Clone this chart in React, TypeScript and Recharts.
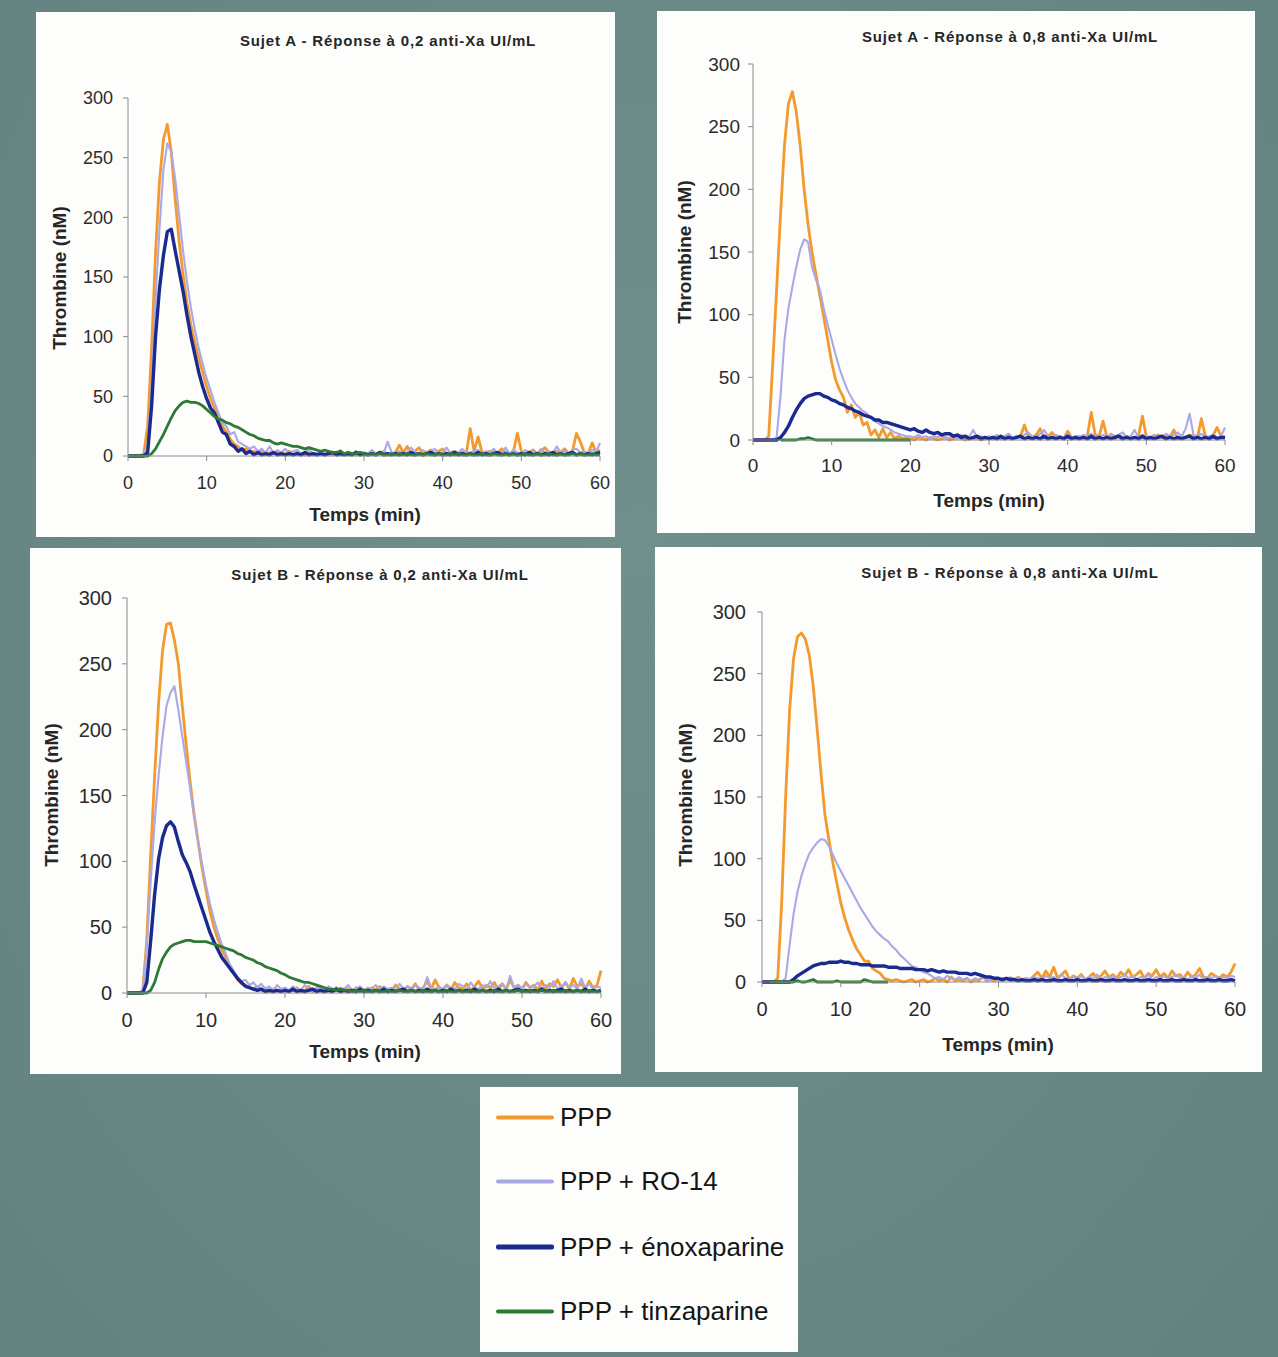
import { LineChart, Line, XAxis, YAxis } from "recharts";

// time axis (min), one reading every 30 s
const minutes = [
  0, 0.5, 1, 1.5, 2, 2.5, 3, 3.5, 4, 4.5,
  5, 5.5, 6, 6.5, 7, 7.5, 8, 8.5, 9, 9.5,
  10, 10.5, 11, 11.5, 12, 12.5, 13, 13.5, 14, 14.5,
  15, 15.5, 16, 16.5, 17, 17.5, 18, 18.5, 19, 19.5,
  20, 20.5, 21, 21.5, 22, 22.5, 23, 23.5, 24, 24.5,
  25, 25.5, 26, 26.5, 27, 27.5, 28, 28.5, 29, 29.5,
  30, 30.5, 31, 31.5, 32, 32.5, 33, 33.5, 34, 34.5,
  35, 35.5, 36, 36.5, 37, 37.5, 38, 38.5, 39, 39.5,
  40, 40.5, 41, 41.5, 42, 42.5, 43, 43.5, 44, 44.5,
  45, 45.5, 46, 46.5, 47, 47.5, 48, 48.5, 49, 49.5,
  50, 50.5, 51, 51.5, 52, 52.5, 53, 53.5, 54, 54.5,
  55, 55.5, 56, 56.5, 57, 57.5, 58, 58.5, 59, 59.5,
  60,
];

const xTicks = [0, 10, 20, 30, 40, 50, 60];
const yTicks = [0, 50, 100, 150, 200, 250, 300];

// Sujet A - 0,2 anti-Xa
const a02Ppp = [
  0, 0, 0, 0, 2, 25, 90, 170, 230, 265,
  278, 255, 215, 180, 152, 128, 110, 95, 82, 70,
  58, 48, 40, 33, 25, 20, 14, 10, 8, 5,
  6, 3, 4, 2, 5, 1, 3, 2, 4, 1,
  2, 4, 1, 3, 2, 1, 3, 1, 2, 4,
  1, 2, 1, 3, 1, 2, 1, 2, 1, 3,
  1, 2, 3, 1, 2, 4, 1, 2, 3, 9,
  3, 8, 2, 4, 7, 2, 3, 5, 2, 4,
  6, 2, 3, 4, 2, 3, 2, 23, 4, 16,
  3, 2, 4, 3, 2, 6, 3, 2, 4, 19,
  4, 2, 3, 5, 2, 4, 7, 3, 2, 4,
  3, 6, 2, 4, 19, 12, 3, 2, 11, 3,
  5,
];
const a02Ro14 = [
  0, 0, 0, 0, 1, 10, 60, 130, 190, 240,
  262, 255, 232, 202, 172, 146, 124, 106, 90, 77,
  65, 55, 45, 36, 28, 25, 18, 20, 12, 10,
  8, 6, 8, 4, 6, 3, 8, 2, 5, 3,
  6, 2, 4, 5, 2, 3, 6, 2, 3, 2,
  4, 2, 3, 2, 5, 1, 3, 2, 4, 2,
  3, 2, 5, 2, 3, 2, 12, 3, 2, 4,
  2, 3, 7, 3, 2, 5, 3, 4, 6, 2,
  3, 7, 2, 4, 3, 6, 2, 3, 4, 5,
  2, 4, 3, 6, 2, 3, 7, 2, 5, 3,
  2, 5, 3, 4, 2, 6, 3, 4, 2, 8,
  3, 4, 2, 5, 6, 3, 4, 2, 5, 3,
  11,
];
const a02Enox = [
  0, 0, 0, 0, 0, 3, 42, 100, 140, 168,
  188, 190, 172, 155, 138, 118, 100, 85, 70, 58,
  48, 40, 36, 28, 20, 18, 10, 8, 4, 6,
  2, 4, 1, 3, 1, 2, 1, 3, 1, 2,
  1, 2, 1, 2, 1, 3, 1, 2, 1, 2,
  1, 2, 3, 1, 2, 1, 2, 1, 3, 1,
  2, 1, 2, 1, 3, 1, 2, 1, 2, 1,
  2, 1, 3, 1, 2, 1, 2, 3, 1, 2,
  1, 2, 1, 3, 1, 2, 1, 2, 1, 3,
  1, 2, 1, 2, 3, 1, 2, 1, 2, 1,
  2, 1, 3, 1, 2, 1, 2, 1, 3, 1,
  2, 1, 2, 3, 1, 2, 1, 2, 1, 2,
  3,
];
const a02Tinz = [
  0, 0, 0, 0, 0, 0, 2, 6, 12, 18,
  25, 32, 38, 42, 45, 46, 45, 45, 44, 42,
  39, 36, 33, 31, 30, 28, 27, 25, 24, 22,
  20, 18, 17, 15, 14, 13, 13, 11, 10, 11,
  10, 9, 8, 8, 7, 6, 7, 6, 5, 4,
  5, 4, 3, 3, 4, 2, 3, 2, 2, 3,
  2, 1, 2, 1, 2, 1, 1, 2, 1, 2,
  1, 2, 1, 1, 2, 1, 2, 1, 1, 2,
  1, 1, 2, 1, 2, 1, 1, 2, 1, 1,
  2, 1, 1, 2, 1, 1, 2, 1, 2, 1,
  1, 2, 1, 1, 2, 1, 1, 2, 1, 1,
  2, 1, 1, 2, 1, 2, 1, 1, 2, 1,
  1,
];

// Sujet A - 0,8 anti-Xa
const a08Ppp = [
  0, 0, 0, 0, 3, 60, 120, 180, 235, 268,
  278, 262, 235, 200, 172, 150, 132, 115, 98, 80,
  62, 48, 40, 34, 22, 28, 18, 22, 12, 14,
  4, 8, 2, 9, 2, 6, 1, 3, 1, 2,
  1, 0, 2, 1, 0, 2, 1, 0, 1, 2,
  0, 1, 3, 1, 0, 2, 1, 2, 0, 1,
  2, 1, 3, 1, 2, 4, 1, 2, 3, 12,
  3, 2, 4, 9, 2, 3, 6, 2, 3, 1,
  7, 2, 1, 3, 2, 3, 22, 4, 3, 15,
  2, 3, 1, 4, 2, 3, 1, 2, 3, 19,
  3, 1, 2, 4, 2, 3, 2, 8, 1, 3,
  2, 4, 3, 2, 17, 3, 2, 4, 10, 3,
  2,
];
const a08Ro14 = [
  0, 0, 0, 0, 0, 0, 2, 35, 80, 105,
  122, 138, 152, 160, 158, 138, 128, 120, 105, 92,
  80, 68, 57, 48, 40, 34, 29, 26, 23, 21,
  18, 15, 13, 11, 10, 8, 6, 5, 4, 3,
  3, 2, 4, 2, 3, 1, 3, 2, 4, 1,
  2, 3, 1, 4, 2, 3, 8, 2, 3, 1,
  3, 2, 4, 2, 3, 5, 2, 3, 2, 4,
  6, 3, 2, 5, 8, 3, 2, 4, 3, 2,
  5, 2, 3, 2, 4, 3, 5, 2, 3, 4,
  2, 5, 3, 4, 6, 2, 3, 8, 2, 4,
  3, 2, 4, 3, 2, 5, 3, 4, 6, 3,
  9, 21, 4, 3, 5, 2, 3, 4, 2, 3,
  10,
];
const a08Enox = [
  0, 0, 0, 0, 0, 0, 0, 2, 6, 11,
  18, 24, 29, 33, 35, 36, 37, 37, 35, 34,
  32, 31, 29, 28, 26, 25, 23, 22, 20, 19,
  18, 16, 16, 14, 14, 13, 12, 11, 10, 9,
  8, 9, 7, 6, 8, 6, 5, 6, 4, 5,
  5, 3, 4, 2, 3, 1, 2, 3, 1, 2,
  1, 2, 1, 3, 1, 2, 1, 2, 3, 1,
  2, 1, 2, 1, 3, 1, 2, 1, 2, 1,
  3, 1, 2, 1, 2, 1, 3, 1, 2, 1,
  2, 1, 2, 3, 1, 2, 1, 2, 1, 3,
  1, 2, 1, 2, 3, 1, 2, 1, 2, 1,
  2, 3, 1, 2, 1, 2, 1, 3, 1, 2,
  2,
];
const a08Tinz = [
  null, null, null, null, null, null, null, 0, 0, 0,
  0, 0, 1, 1, 2, 1, 0, 0, 0, 0,
  0, 0, 0, 0, 0, 0, 0, 0, 0, 0,
  0, 0, 0, 0, 0, 0, 0, 0, 0, 0,
  0, null, null, null, null, null, null, null, null, null,
  null, null, null, null, null, null, null, null, null, null,
  null, null, null, null, null, null, null, null, null, null,
  null, null, null, null, null, null, null, null, null, null,
  null, null, null, null, null, null, null, null, null, null,
  null, null, null, null, null, null, null, null, null, null,
  null, null, null, null, null, null, null, null, null, null,
  null, null, null, null, null, null, null, null, null, null,
  null,
];

// Sujet B - 0,2 anti-Xa
const b02Ppp = [
  0, 0, 0, 0, 2, 40, 105, 165, 220, 260,
  280, 281, 268, 250, 218, 188, 160, 135, 115, 95,
  78, 62, 50, 41, 33, 27, 20, 15, 10, 7,
  6, 4, 3, 5, 2, 4, 1, 3, 2, 1,
  3, 1, 2, 4, 1, 2, 5, 1, 3, 2,
  1, 3, 2, 4, 1, 2, 3, 1, 4, 2,
  3, 1, 4, 2, 5, 1, 3, 2, 6, 3,
  2, 5, 3, 7, 2, 4, 9, 3, 10, 4,
  3, 6, 2, 8, 4, 3, 7, 2, 5, 9,
  3, 6, 4, 8, 2, 7, 3, 10, 4, 6,
  3, 8, 4, 6, 2, 9, 3, 7, 5, 10,
  4, 8, 3, 11, 5, 7, 3, 9, 4, 6,
  17,
];
const b02Ro14 = [
  0, 0, 0, 0, 2, 35, 85, 130, 165, 195,
  218, 228, 233, 215, 195, 175, 155, 135, 115, 98,
  82, 68, 56, 46, 37, 30, 22, 17, 12, 9,
  10, 6, 8, 4, 7, 3, 5, 2, 6, 3,
  4, 2, 5, 3, 2, 6, 3, 2, 4, 3,
  2, 5, 3, 2, 4, 3, 6, 2, 3, 5,
  2, 4, 3, 6, 2, 5, 3, 4, 2, 7,
  3, 5, 2, 6, 4, 3, 12, 4, 3, 5,
  2, 6, 4, 3, 7, 5, 2, 8, 4, 3,
  6, 4, 9, 3, 5, 7, 3, 13, 4, 6,
  3, 7, 4, 5, 8, 3, 6, 4, 9, 3,
  5, 8, 4, 6, 3, 11, 4, 7, 3, 5,
  4,
];
const b02Enox = [
  0, 0, 0, 0, 0, 8, 40, 75, 102, 118,
  127, 130, 126, 115, 105, 99, 92, 82, 73, 64,
  55, 46, 39, 33, 27, 23, 19, 15, 11, 8,
  5, 4, 3, 2, 3, 1, 2, 1, 2, 1,
  2, 1, 3, 1, 2, 1, 2, 3, 1, 2,
  1, 2, 1, 3, 1, 2, 1, 2, 1, 3,
  1, 2, 1, 2, 1, 3, 1, 2, 1, 2,
  3, 1, 2, 1, 2, 1, 3, 1, 2, 1,
  2, 1, 3, 1, 2, 1, 2, 1, 3, 1,
  2, 1, 2, 1, 3, 1, 2, 1, 2, 3,
  1, 2, 1, 2, 1, 3, 1, 2, 1, 2,
  3, 1, 2, 1, 2, 1, 3, 1, 2, 1,
  2,
];
const b02Tinz = [
  0, 0, 0, 0, 0, 0, 2, 8, 18, 26,
  31, 35, 37, 38, 39, 40, 40, 39, 39, 39,
  39, 38, 37, 36, 35, 34, 33, 32, 30, 29,
  27, 26, 25, 23, 22, 20, 19, 18, 17, 15,
  14, 12, 11, 10, 9, 8, 8, 7, 6, 5,
  4, 3, 3, 2, 3, 2, 2, 1, 2, 1,
  2, 1, 1, 2, 1, 1, 2, 1, 1, 2,
  1, 1, 2, 1, 1, 2, 1, 1, 2, 1,
  1, 2, 1, 1, 2, 1, 1, 2, 1, 1,
  2, 1, 1, 2, 1, 1, 2, 1, 1, 2,
  1, 1, 2, 1, 1, 2, 1, 1, 2, 1,
  1, 2, 1, 1, 2, 1, 1, 2, 1, 1,
  1,
];

// Sujet B - 0,8 anti-Xa
const b08Ppp = [
  0, 0, 0, 0, 3, 65, 150, 220, 262, 280,
  283, 278, 265, 240, 205, 168, 135, 115, 96, 80,
  64, 52, 42, 34, 27, 22, 17, 17, 11, 9,
  7, 3, 2, 1, 2, 1, 0, 1, 2, 0,
  1, 2, 0, 1, 3, 1, 2, 0, 4, 1,
  2, 1, 3, 0, 2, 1, 4, 1, 2, 1,
  2, 1, 3, 1, 2, 4, 1, 3, 2, 5,
  8, 3, 9, 4, 12, 3, 6, 9, 2, 5,
  3, 6, 2, 4, 7, 3, 5, 9, 4, 6,
  3, 8, 5, 10, 4, 6, 9, 3, 7, 5,
  10, 4, 7, 3, 9, 5, 6, 3, 8, 4,
  6, 11, 4, 3, 7, 5, 3, 6, 4, 8,
  15,
];
const b08Ro14 = [
  0, 0, 0, 0, 0, 0, 3, 30, 55, 73,
  86, 96, 104, 109, 113, 116, 115, 110, 103, 96,
  90, 84, 78, 72, 66, 60, 55, 50, 45, 41,
  38, 35, 33, 29, 26, 22, 19, 16, 13, 12,
  10, 8, 7, 5, 3, 4, 2, 5, 3, 2,
  4, 2, 3, 1, 3, 2, 4, 1, 2, 3,
  1, 3, 2, 4, 2, 3, 1, 3, 2, 4,
  3, 2, 5, 3, 4, 2, 6, 3, 2, 4,
  3, 5, 2, 4, 3, 6, 2, 4, 3, 5,
  2, 4, 6, 3, 5, 2, 4, 3, 6, 2,
  4, 3, 5, 2, 4, 6, 3, 4, 2, 5,
  3, 6, 2, 4, 3, 5, 2, 4, 3, 5,
  4,
];
const b08Enox = [
  0, 0, 0, 0, 0, 0, 0, 0, 2, 5,
  7, 9, 11, 13, 14, 15, 15, 16, 16, 16,
  17, 16, 16, 15, 15, 14, 14, 14, 13, 13,
  13, 13, 12, 12, 12, 11, 11, 11, 11, 10,
  10, 10, 9, 10, 9, 8, 9, 8, 8, 8,
  7, 7, 7, 6, 7, 6, 5, 4, 4, 3,
  3, 2, 3, 2, 2, 1, 2, 1, 1, 2,
  1, 2, 1, 1, 2, 1, 1, 2, 1, 1,
  2, 1, 1, 2, 1, 1, 2, 1, 1, 2,
  1, 1, 2, 1, 1, 2, 1, 1, 2, 1,
  1, 2, 1, 1, 2, 1, 1, 2, 1, 1,
  2, 1, 1, 2, 1, 1, 2, 1, 1, 2,
  1,
];
const b08Tinz = [
  null, null, 0, 0, 0, 0, 0, 0, 0, 1,
  0, 0, 1, 2, 0, 0, 0, 0, 0, 1,
  0, 0, 0, 0, 0, 0, 2, 1, 0, 0,
  0, 0, 0, null, null, null, null, null, null, null,
  null, null, null, null, null, null, null, null, null, null,
  null, null, null, null, null, null, null, null, null, null,
  null, null, null, null, null, null, null, null, null, null,
  null, null, null, null, null, null, null, null, null, null,
  null, null, null, null, null, null, null, null, null, null,
  null, null, null, null, null, null, null, null, null, null,
  null, null, null, null, null, null, null, null, null, null,
  null, null, null, null, null, null, null, null, null, null,
  null,
];

const series = [
  { key: "ppp", label: "PPP", color: "#F29A2E", width: 2.8 },
  { key: "ro14", label: "PPP + RO-14", color: "#A9A9E6", width: 2.1 },
  { key: "enox", label: "PPP + énoxaparine", color: "#1B2A8E", width: 3.4 },
  { key: "tinz", label: "PPP + tinzaparine", color: "#2C7A35", width: 2.8 },
];

type Val = number | null;

function buildRows(ppp: Val[], ro14: Val[], enox: Val[], tinz: Val[]) {
  return minutes.map((t, i) => ({ t, ppp: ppp[i], ro14: ro14[i], enox: enox[i], tinz: tinz[i] }));
}

const FONT = "'Liberation Sans', Arial, sans-serif";
const Y_AXIS_W = 50;
const X_AXIS_H = 40;

// box = panel [left, top, right, bottom]; plot = plot area [left, top, right, bottom], page px
const panels = [
  {
    title: "Sujet A - Réponse à 0,2 anti-Xa UI/mL",
    box: [36, 12, 615, 537], plot: [128, 98, 600, 456],
    tickFont: 18, xGap: 20, yGap: 15,
    titleAt: [388, 40], xLabelAt: [365, 515], yLabelAt: [60, 278],
    rows: buildRows(a02Ppp, a02Ro14, a02Enox, a02Tinz),
  },
  {
    title: "Sujet A - Réponse à 0,8 anti-Xa UI/mL",
    box: [657, 11, 1255, 533], plot: [753, 64, 1225, 440],
    tickFont: 19, xGap: 19, yGap: 13,
    titleAt: [1010, 36], xLabelAt: [989, 501], yLabelAt: [685, 252],
    rows: buildRows(a08Ppp, a08Ro14, a08Enox, a08Tinz),
  },
  {
    title: "Sujet B - Réponse à 0,2 anti-Xa UI/mL",
    box: [30, 548, 621, 1074], plot: [127, 598, 601, 993],
    tickFont: 20, xGap: 20, yGap: 15,
    titleAt: [380, 574], xLabelAt: [365, 1052], yLabelAt: [52, 795],
    rows: buildRows(b02Ppp, b02Ro14, b02Enox, b02Tinz),
  },
  {
    title: "Sujet B - Réponse à 0,8 anti-Xa UI/mL",
    box: [655, 547, 1262, 1072], plot: [762, 612, 1235, 982],
    tickFont: 20, xGap: 20, yGap: 16,
    titleAt: [1010, 572], xLabelAt: [998, 1045], yLabelAt: [686, 795],
    rows: buildRows(b08Ppp, b08Ro14, b08Enox, b08Tinz),
  },
];

function Panel({ p }: { p: (typeof panels)[number] }) {
  const [bl, bt, br, bb] = p.box;
  const [pl, pt, pr, pb] = p.plot;
  const w = br - bl;
  const h = bb - bt;
  const margin = {
    left: pl - bl - Y_AXIS_W,
    top: pt - bt,
    right: br - pr,
    bottom: bb - pb - X_AXIS_H,
  };
  const tick = { fontSize: p.tickFont, fill: "#2b2b2b", fontFamily: FONT };
  const axisLine = { stroke: "#8a8a8a", strokeWidth: 1 };

  return (
    <>
      <div style={{ position: "absolute", left: bl, top: bt, width: w, height: h, background: "#fdfdfc" }}>
        <LineChart width={w} height={h} data={p.rows} margin={margin}>
          <XAxis
            dataKey="t"
            type="number"
            domain={[0, 60]}
            ticks={xTicks}
            height={X_AXIS_H}
            tick={tick}
            tickSize={5}
            tickMargin={p.xGap - 5}
            axisLine={axisLine}
            tickLine={axisLine}
          />
          <YAxis
            type="number"
            domain={[0, 300]}
            ticks={yTicks}
            width={Y_AXIS_W}
            tick={tick}
            tickSize={5}
            tickMargin={p.yGap - 5}
            axisLine={axisLine}
            tickLine={axisLine}
          />
          {series.map((s) => (
            <Line
              key={s.key}
              dataKey={s.key}
              type="linear"
              stroke={s.color}
              strokeWidth={s.width}
              strokeLinejoin="round"
              dot={false}
              activeDot={false}
              isAnimationActive={false}
            />
          ))}
        </LineChart>
      </div>
      <div
        style={{
          position: "absolute", left: p.titleAt[0], top: p.titleAt[1],
          transform: "translate(-50%, -50%)", whiteSpace: "nowrap",
          fontFamily: FONT, fontWeight: 700, fontSize: 15, letterSpacing: 0.85, color: "#262626",
        }}
      >
        {p.title}
      </div>
      <div
        style={{
          position: "absolute", left: p.xLabelAt[0], top: p.xLabelAt[1],
          transform: "translate(-50%, -50%)", whiteSpace: "nowrap",
          fontFamily: FONT, fontWeight: 700, fontSize: 19, color: "#262626",
        }}
      >
        Temps (min)
      </div>
      <div
        style={{
          position: "absolute", left: p.yLabelAt[0], top: p.yLabelAt[1],
          transform: "translate(-50%, -50%) rotate(-90deg)", whiteSpace: "nowrap",
          fontFamily: FONT, fontWeight: 700, fontSize: 19, color: "#262626",
        }}
      >
        Thrombine (nM)
      </div>
    </>
  );
}

const legendRows = [1117, 1181, 1247, 1311];

export default function App() {
  return (
    <div
      style={{
        position: "absolute", left: 0, top: 0, width: 1278, height: 1357, overflow: "hidden",
        background: "radial-gradient(ellipse at 50% 40%, #6f8f8d 0%, #698785 60%, #63817f 100%)",
      }}
    >
      {panels.map((p) => (
        <Panel key={p.title} p={p} />
      ))}
      <div style={{ position: "absolute", left: 480, top: 1087, width: 318, height: 265, background: "#fdfdfc" }} />
      {series.map((s, i) => (
        <div
          key={s.key}
          style={{
            position: "absolute", left: 496, top: legendRows[i], transform: "translateY(-50%)",
            display: "flex", alignItems: "center", whiteSpace: "nowrap",
          }}
        >
          <div style={{ width: 58, height: s.key === "enox" ? 5 : 4, background: s.color, borderRadius: 2 }} />
          <span style={{ marginLeft: 6, fontFamily: FONT, fontSize: 26, color: "#151515" }}>{s.label}</span>
        </div>
      ))}
    </div>
  );
}
